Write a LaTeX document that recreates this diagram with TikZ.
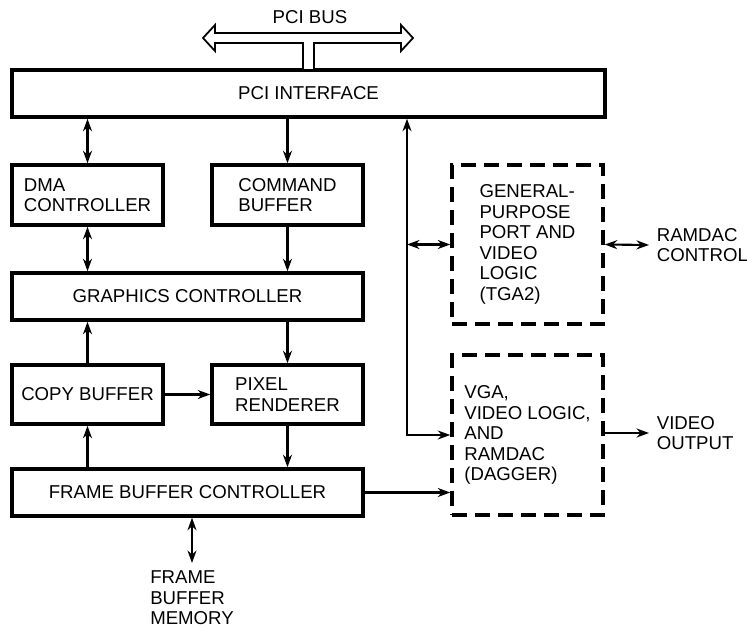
\documentclass[tikz,border=0pt]{standalone}
\usepackage{fontspec}
\setmainfont{Liberation Sans}
\usetikzlibrary{positioning,arrows.meta}

\begin{document}
\begin{tikzpicture}[x=0.02cm,y=-0.02cm,>={Stealth[length=0.25cm,width=0.18cm]},node distance=0.91cm,
  font=\fontsize{10.6}{11.7}\selectfont,
  blk/.style={draw,line width=2pt,align=left,inner sep=0pt,minimum width=3.02cm,minimum height=1.2cm},
  wide/.style={blk,minimum width=7.02cm,minimum height=0.94cm},
  opt/.style={blk,dash pattern=on 0.3cm off 0.16cm,minimum height=3.2cm},
  lbl/.style={align=left,inner sep=0.15cm},
  conn/.style={line width=1.2pt}]
  \useasboundingbox (0,0) rectangle (747,628);

  % bus side
  \node[wide,minimum width=11.86cm] (pci) at (308.5,93.5) {PCI INTERFACE};
  \node[inner sep=0pt] (pcibus) at (310,17) {PCI BUS};
  \draw[line width=1pt,fill=white] (203,38) -- (215,25) -- (215,33) -- (401,33) -- (401,25) -- (413,38)
    -- (401,51) -- (401,43) -- (314,43) -- (314,70) -- (303,70) -- (303,43) -- (215,43) -- (215,51) -- cycle;

  % rendering pipeline
  \node[blk] (dma) at (87.5,195) {DMA\\CONTROLLER};
  \node[blk,right=of dma] (cmd) {COMMAND\\BUFFER};
  \node[wide] (gfx) at (187.5,296.5) {GRAPHICS CONTROLLER};
  \node[blk,minimum height=1.18cm] (copy) at (87.5,394.5) {COPY BUFFER};
  \node[blk,minimum height=1.18cm,right=of copy] (pix) {PIXEL\\RENDERER};
  \node[wide] (fbc) at (187.5,492.5) {FRAME BUFFER CONTROLLER};
  \node[lbl,anchor=north] (mem) at (192,563) {FRAME\\BUFFER\\MEMORY};

  % video side
  \node[opt,minimum height=3.18cm] (gp) at (527.5,244.5) {GENERAL-\\PURPOSE\\PORT AND\\VIDEO\\LOGIC\\(TGA2)};
  \node[opt] (vga) at (527.5,435) {VGA,\\VIDEO LOGIC,\\AND\\RAMDAC\\(DAGGER)};
  \node[lbl,anchor=west] (ramdac) at (649,245) {RAMDAC\\CONTROL};
  \node[lbl,anchor=west] (vidout) at (649,433) {VIDEO\\OUTPUT};
  \coordinate (tap) at (407,435);

  \draw[conn,<->] (dma.north) -- (dma.north |- pci.south);
  \draw[conn,->] (cmd.north |- pci.south) -- (cmd.north);
  \draw[conn,<->] (dma.south) -- (dma.south |- gfx.north);
  \draw[conn,->] (cmd.south) -- (cmd.south |- gfx.north);
  \draw[conn,->] (copy.north) -- (copy.north |- gfx.south);
  \draw[conn,->] (pix.north |- gfx.south) -- (pix.north);
  \draw[conn,->] (copy.east) -- (pix.west);
  \draw[conn,->] (copy.south |- fbc.north) -- (copy.south);
  \draw[conn,->] (pix.south) -- (pix.south |- fbc.north);
  \draw[conn,<->] (mem.north) -- (mem.north |- fbc.south);

  \draw[conn,<->] (tap |- pci.south) |- (vga.west);
  \draw[conn,<->] (tap |- gp.west) -- (gp.west);
  \draw[conn,->] (fbc.east) -- (fbc.east -| vga.west);
  \draw[conn,<->] (gp.east) -- (ramdac.west);
  \draw[conn,->] (vidout.west -| vga.east) -- (vidout.west);
\end{tikzpicture}
\end{document}
